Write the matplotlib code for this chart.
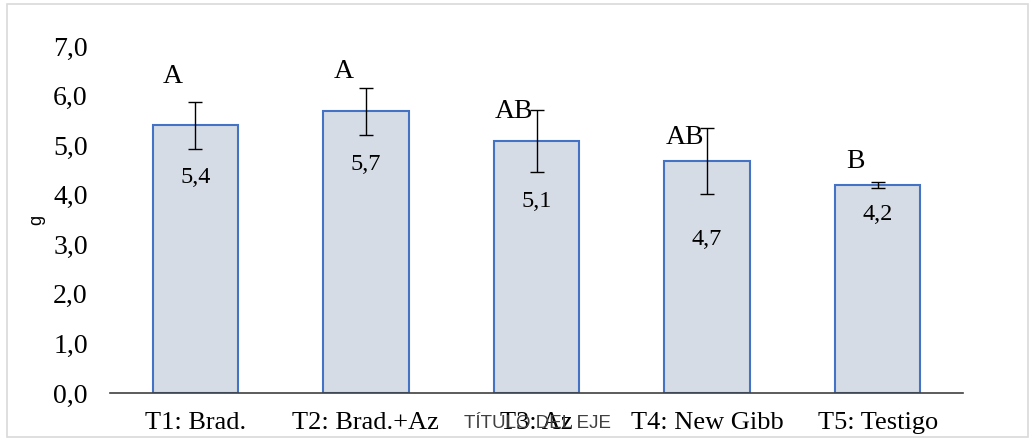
import matplotlib.pyplot as plt
from matplotlib.patches import Rectangle

tratamientos = ['T1: Brad.', 'T2: Brad.+Az', 'T3: Az', 'T4: New Gibb', 'T5: Testigo']
medias = [5.40, 5.68, 5.08, 4.68, 4.19]
errores = [0.47, 0.48, 0.62, 0.66, 0.06]
etiquetas = ['5,4', '5,7', '5,1', '4,7', '4,2']
letras = ['A', 'A', 'AB', 'AB', 'B']
letras_y = [6.38, 6.48, 5.68, 5.16, 4.68]

plt.rcParams['font.family'] = 'Liberation Serif'

fig = plt.figure(figsize=(10.32, 4.41), dpi=100)
fig.patches.append(Rectangle((7 / 1032, 4 / 441), 1021 / 1032, 433 / 441,
                             transform=fig.transFigure, fill=False,
                             edgecolor='#D9D9D9', linewidth=1.2))
ax = fig.add_axes([110 / 1032, 48 / 441, 853 / 1032, 347 / 441])

x = range(len(tratamientos))
ax.bar(x, medias, width=0.5, color='#D6DCE5', edgecolor='#4472C4', linewidth=1.5, zorder=2)
ax.errorbar(x, medias, yerr=errores, fmt='none', ecolor='black', elinewidth=1,
            capsize=5, capthick=1, zorder=3)

# desplazamiento de las etiquetas de valor (puntos)
desp = [-21, -21, -21, -33, -19]
for i in x:
    ax.annotate(etiquetas[i], (i, medias[i] - errores[i]), xytext=(0, desp[i]),
                textcoords='offset points', ha='center', va='center', fontsize=17.5)
    ax.text(i - 0.13, letras_y[i], letras[i], ha='center', va='center', fontsize=20)

ax.set_xlim(-0.5, 4.5)
ax.set_ylim(0, 7)
ax.set_yticks([0, 1, 2, 3, 4, 5, 6, 7])
ax.set_yticklabels(['0,0', '1,0', '2,0', '3,0', '4,0', '5,0', '6,0', '7,0'])
ax.set_xticks(list(x))
ax.set_xticklabels(tratamientos)
ax.tick_params(axis='y', length=0, labelsize=20, pad=16)
ax.tick_params(axis='x', length=0, labelsize=19, pad=14)

for s in ['top', 'right', 'left']:
    ax.spines[s].set_visible(False)
ax.spines['bottom'].set_color('#404040')
ax.spines['bottom'].set_linewidth(1.2)

ax.set_ylabel('g', family='Liberation Sans', fontsize=13, labelpad=6)
fig.text(537 / 1032, 1 - 424 / 441, 'TÍTULO DEL EJE', family='Liberation Sans',
         fontsize=13.5, color='#404040', ha='center', va='center')

plt.savefig('out.png')
